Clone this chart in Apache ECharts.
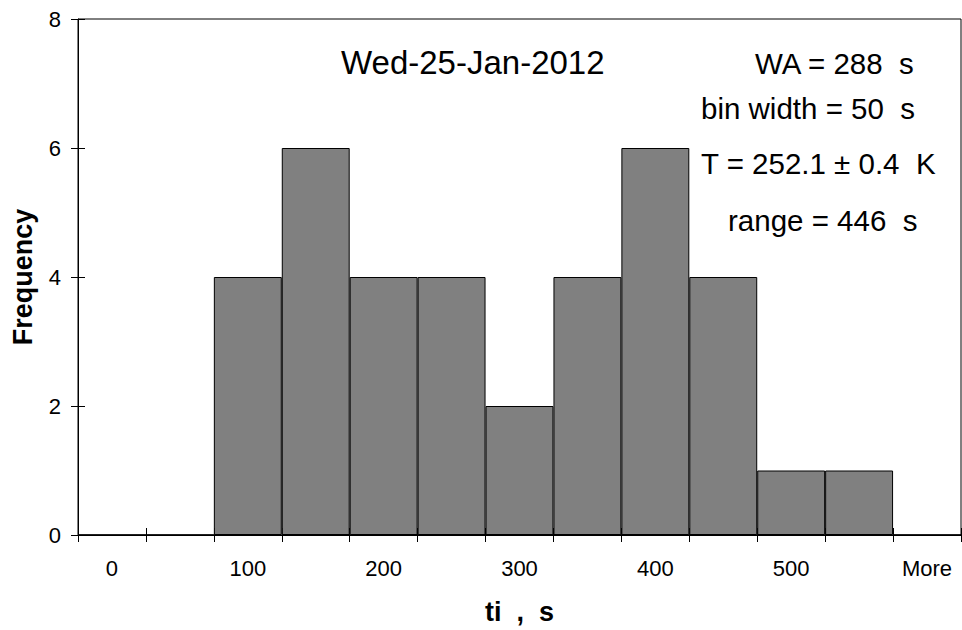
<!DOCTYPE html>
<html>
<head>
<meta charset="utf-8">
<script src="https://cdn.jsdelivr.net/npm/echarts@6/dist/echarts.min.js"></script>
<style>
html,body{margin:0;padding:0;background:#fff;}
#chart{width:962px;height:630px;}
</style>
</head>
<body>
<div id="chart"></div>
<script>
// ---- data ----
const categories = ['0','50','100','150','200','250','300','350','400','450','500','550','More'];
const frequency  = [0, 0, 4, 6, 4, 4, 2, 4, 6, 4, 1, 1, 0];
const yTickLabels = ['0','2','4','6','8'];
const chartDate = 'Wed-25-Jan-2012';
const annotations = ['WA = 288  s', 'bin width = 50  s', 'T = 252.1 \u00B1 0.4  K', 'range = 446  s'];
const xAxisTitle = 'ti  ,  s';
const yAxisTitle = 'Frequency';

// ---- layout / style ----
const FONT = "'Liberation Sans', Arial, Helvetica, sans-serif";
const yMin = Number(yTickLabels[0]);
const yMax = Number(yTickLabels[yTickLabels.length - 1]);
const yStep = Number(yTickLabels[1]) - Number(yTickLabels[0]);
const annotPos = [[755, 63.5], [701, 108.5], [701, 163.5], [728, 220.5]];

const chart = echarts.init(document.getElementById('chart'), null, {renderer: 'svg'});
chart.setOption({
  animation: false,
  backgroundColor: '#fff',
  grid: {left: 78, right: 1, top: 19, bottom: 93, show: true, borderColor: '#000', borderWidth: 1, backgroundColor: 'transparent'},
  xAxis: [{
    type: 'category', data: categories, position: 'bottom',
    axisLine: {show: true, onZero: false, lineStyle: {color: '#000', width: 1}},
    axisTick: {show: true, interval: 0, length: 7, lineStyle: {color: '#000'}},
    axisLabel: {interval: 1, margin: 22, color: '#000', fontSize: 22, fontFamily: FONT},
    name: xAxisTitle, nameLocation: 'middle', nameGap: 63,
    nameTextStyle: {color: '#000', fontSize: 27, fontWeight: 'bold', fontFamily: FONT}
  }, {
    type: 'category', data: categories, position: 'bottom',
    axisLine: {show: false},
    axisTick: {show: true, inside: true, interval: 0, length: 7, lineStyle: {color: '#000'}},
    axisLabel: {show: false}
  }],
  yAxis: [{
    type: 'value', min: yMin, max: yMax, interval: yStep, position: 'left',
    axisLine: {show: true, lineStyle: {color: '#000', width: 1}},
    axisTick: {show: true, length: 7, lineStyle: {color: '#000'}},
    axisLabel: {margin: 17, color: '#000', fontSize: 22, fontFamily: FONT},
    splitLine: {show: false},
    name: yAxisTitle, nameLocation: 'middle', nameGap: 42, nameRotate: 90,
    nameTextStyle: {color: '#000', fontSize: 27, fontWeight: 'bold', fontFamily: FONT}
  }, {
    type: 'value', min: yMin, max: yMax, interval: yStep, position: 'left',
    axisLine: {show: false},
    axisTick: {show: true, inside: true, length: 7, lineStyle: {color: '#000'}},
    axisLabel: {show: false},
    splitLine: {show: false}
  }],
  series: [{
    type: 'bar', data: frequency, xAxisIndex: 0, yAxisIndex: 0,
    barCategoryGap: '0%',
    itemStyle: {color: '#808080', borderColor: '#000', borderWidth: 1}
  }],
  graphic: [
    {type: 'text', x: 341, y: 62.5, z: 10,
     style: {text: chartDate, font: '33px ' + FONT, fill: '#000', align: 'left', verticalAlign: 'middle', textAlign: 'left', textVerticalAlign: 'middle'}}
  ].concat(annotations.map((t, i) => ({
    type: 'text', x: annotPos[i][0], y: annotPos[i][1], z: 10,
    style: {text: t, font: '29.5px ' + FONT, fill: '#000', align: 'left', verticalAlign: 'middle', textAlign: 'left', textVerticalAlign: 'middle'}
  })))
});
</script>
</body>
</html>
